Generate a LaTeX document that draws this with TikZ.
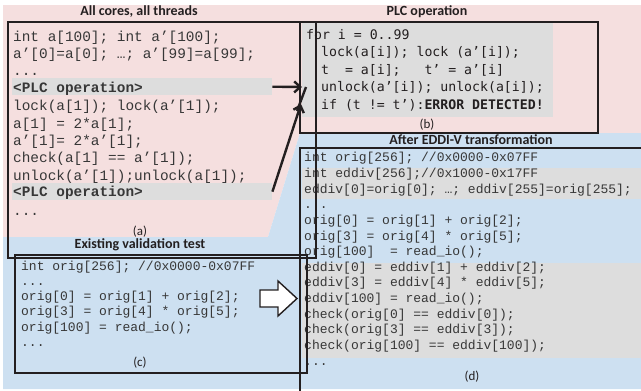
\documentclass[tikz,border=0pt]{standalone}
\usepackage{fontspec}
\setmainfont{Carlito}
\newfontfamily\codefont{Liberation Mono}
\newfontfamily\plcfont{DejaVu Sans Mono}
\usetikzlibrary{arrows.meta}

\definecolor{pinkbg}{RGB}{245,223,223}
\definecolor{bluebg}{RGB}{205,224,241}
\definecolor{bandgray}{RGB}{221,221,221}
\definecolor{ink}{RGB}{35,31,32}
\definecolor{codeink}{RGB}{55,55,55}

\tikzset{
  frame/.style={draw=ink, line width=1.8pt},
  band/.style={fill=bandgray, inner sep=0pt, anchor=north west},
  title/.style={font=\fontsize{14}{16}\selectfont\bfseries, text=ink, inner sep=0pt},
  tag/.style={font=\fontsize{13}{15}\selectfont, text=ink, inner sep=0pt},
  codeA/.style={anchor=base west, inner sep=0pt, font=\codefont\fontsize{14.4}{17}\selectfont, text=codeink},
  codeB/.style={anchor=base west, inner sep=0pt, font=\plcfont\fontsize{13.2}{16}\selectfont, text=ink},
  codeC/.style={anchor=base west, inner sep=0pt, font=\codefont\fontsize{13}{15}\selectfont, text=codeink},
  flow/.style={draw=ink, line width=2.4pt, -{Straight Barb[length=6pt,width=11pt]}},
}

\begin{document}
\begin{tikzpicture}[x=1pt, y=-1pt]
\useasboundingbox (0,0) rectangle (641,391);

% backgrounds: shared-memory zone and validation zone
\fill[pinkbg] (3,5) -- (641,5) -- (641,133) -- (300,133) -- (268,237) -- (3,237) -- cycle;
\fill[bluebg] (3,237) -- (268,237) -- (300,133) -- (641,133) -- (641,389) -- (3,389) -- cycle;

% grey highlight bands
\node[band, minimum width=260pt, minimum height=17pt] (plcA) at (12,78) {};
\node[band, minimum width=260pt, minimum height=17pt] (plcB) at (12,183) {};
\node[band, minimum width=251pt, minimum height=94pt] (plcBody) at (302,23) {};
\node[band, minimum width=339pt, minimum height=31pt] (dupA) at (302,168) {};
\node[band, minimum width=339pt, minimum height=95pt] (dupB) at (302,263) {};

% titles
\node[title] (tA) at (139,12) {All cores, all threads};
\node[title] (tB) at (427,12) {PLC operation};
\node[title] (tD) at (471,140) {After EDDI-V transformation};
\node[title] (tC) at (140,245) {Existing validation test};

% (a) threads
\node[codeA] (a0) at (13,41.0) {int a[100]; int a’[100];};
\node[codeA] (a1) at (13,58.4) {a’[0]=a[0]; …; a’[99]=a[99];};
\node[codeA] (a2) at (13,75.8) {...};
\node[codeA] (a3) at (13,92.2) {\bfseries <PLC operation>};
\node[codeA] (a4) at (13,110.6) {lock(a[1]); lock(a’[1]);};
\node[codeA] (a5) at (13,128.0) {a[1] = 2*a[1];};
\node[codeA] (a6) at (13,145.4) {a’[1]= 2*a’[1];};
\node[codeA] (a7) at (13,162.8) {check(a[1] == a’[1]);};
\node[codeA] (a8) at (13,180.2) {unlock(a’[1]);unlock(a[1]);};
\node[codeA] (a9) at (13,196.8) {\bfseries <PLC operation>};
\node[codeA] (a10) at (13,215.0) {...};
\node[tag] (la) at (140,232) {(a)};

% (b) PLC operation
\node[codeB] (b0) at (306,39.0) {for i = 0..99};
\node[codeB] (b1) at (321,56.5) {lock(a[i]); lock (a’[i]);};
\node[codeB] (b2) at (321,74.0) {t\ \ = a[i];\ \ \ t’ = a’[i]};
\node[codeB] (b3) at (321,91.5) {unlock(a’[i]); unlock(a[i]);};
\node[codeB] (b4) at (321,109.0) {if (t != t’):\textbf{ERROR DETECTED!}};
\node[tag] (lb) at (427,125) {(b)};

% (c) existing test
\node[codeC] (c0) at (21,270.0) {int orig[256]; //0x0000-0x07FF};
\node[codeC] (c1) at (21,285.3) {...};
\node[codeC] (c2) at (21,300.6) {orig[0] = orig[1] + orig[2];};
\node[codeC] (c3) at (21,315.9) {orig[3] = orig[4] * orig[5];};
\node[codeC] (c4) at (21,331.2) {orig[100] = read\_io();};
\node[codeC] (c5) at (21,346.5) {...};
\node[tag] (lc) at (140,363) {(c)};

% (d) transformed test
\node[codeC] (d0)  at (304,161.7) {int orig[256]; //0x0000-0x07FF};
\node[codeC] (d1)  at (304,177.4) {int eddiv[256];//0x1000-0x17FF};
\node[codeC] (d2)  at (304,193.0) {eddiv[0]=orig[0]; …; eddiv[255]=orig[255];};
\node[codeC] (d3)  at (304,208.7) {...};
\node[codeC] (d4)  at (304,224.3) {orig[0] = orig[1] + orig[2];};
\node[codeC] (d5)  at (304,240.0) {orig[3] = orig[4] * orig[5];};
\node[codeC] (d6)  at (304,255.6) {orig[100]\ \ = read\_io();};
\node[codeC] (d7)  at (304,271.3) {eddiv[0] = eddiv[1] + eddiv[2];};
\node[codeC] (d8)  at (304,286.9) {eddiv[3] = eddiv[4] * eddiv[5];};
\node[codeC] (d9)  at (304,302.6) {eddiv[100] = read\_io();};
\node[codeC] (d10) at (304,318.2) {check(orig[0] == eddiv[0]);};
\node[codeC] (d11) at (304,333.9) {check(orig[3] == eddiv[3]);};
\node[codeC] (d12) at (304,349.5) {check(orig[100] == eddiv[100]);};
\node[codeC] (d13) at (304,365.2) {...};
\node[tag] (ld) at (472,377) {(d)};

% frames
\draw[frame] (8,22) rectangle (316,258);
\draw[frame] (300,22) rectangle (598,133);
\draw[frame] (15,255) rectangle (307,373);
\draw[frame] (300,395) -- (300,148) -- (645,148);

% connectors from the PLC calls into the operation
\coordinate (tipA) at (302,87);
\coordinate (tipB) at (301,104);
\coordinate (barT) at (306,87);
\coordinate (barB) at (297,111);
\draw[flow] (plcA.east) -- (tipA);
\draw[flow] (plcB.east) -- (tipB);
\draw[draw=ink, line width=2.4pt] (barT) -- (barB);

% transformation arrow
\draw[draw=ink, line width=1.4pt, fill=white, line join=miter]
  (260,290) -- (278,290) -- (278,281) -- (297,298.5) -- (278,316) -- (278,307) -- (260,307) -- cycle;
\end{tikzpicture}
\end{document}
